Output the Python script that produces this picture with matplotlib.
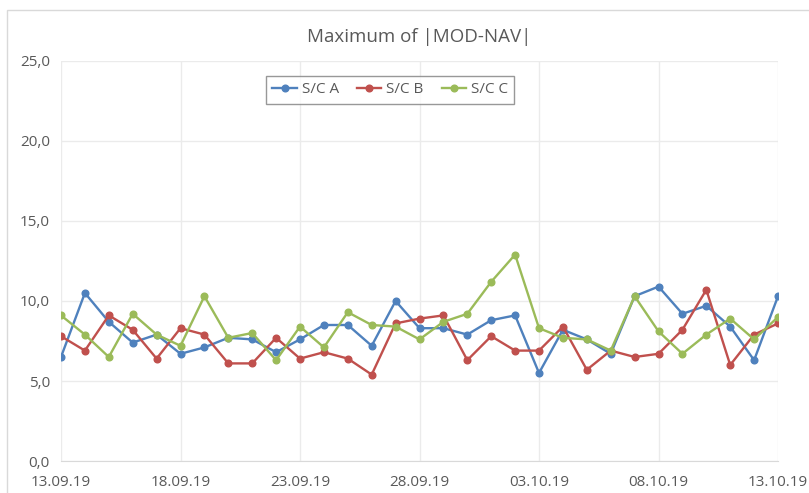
import matplotlib
matplotlib.use('Agg')
import matplotlib.pyplot as plt
import matplotlib.dates as mdates
from matplotlib.ticker import FuncFormatter, MultipleLocator
from matplotlib.patches import Rectangle
import pandas as pd

plt.rcParams['font.family'] = ['Open Sans', 'DejaVu Sans']

dates = pd.date_range('2019-09-13', '2019-10-13', freq='D')

sc_a = [6.5, 10.5, 8.7, 7.4, 7.9, 6.7, 7.1, 7.7, 7.6, 6.8,
        7.6, 8.5, 8.5, 7.2, 10.0, 8.3, 8.3, 7.9, 8.8, 9.1,
        5.5, 8.2, 7.6, 6.7, 10.3, 10.9, 9.2, 9.7, 8.4, 6.3, 10.3]
sc_b = [7.8, 6.9, 9.1, 8.2, 6.4, 8.3, 7.9, 6.1, 6.1, 7.7,
        6.4, 6.8, 6.4, 5.4, 8.6, 8.9, 9.1, 6.3, 7.8, 6.9,
        6.9, 8.4, 5.7, 6.9, 6.5, 6.7, 8.2, 10.7, 6.0, 7.9, 8.6]
sc_c = [9.1, 7.9, 6.5, 9.2, 7.9, 7.2, 10.3, 7.7, 8.0, 6.3,
        8.4, 7.1, 9.3, 8.5, 8.4, 7.6, 8.7, 9.2, 11.2, 12.9,
        8.3, 7.7, 7.6, 6.9, 10.3, 8.1, 6.7, 7.9, 8.9, 7.6, 9.0]

series = [('S/C A', sc_a, '#4F81BD'),
          ('S/C B', sc_b, '#C0504D'),
          ('S/C C', sc_c, '#9BBB59')]

fig = plt.figure(figsize=(8.09, 4.93), dpi=100)
fig.patches.append(Rectangle((0.009, -0.1), 1.2, 1.08, transform=fig.transFigure,
                             fill=False, edgecolor='#D9D9D9', linewidth=1))
ax = fig.add_axes([0.0754, 0.0649, 0.8863, 0.8114])

for name, vals, col in series:
    ax.plot(dates, vals, color=col, linewidth=1.7, marker='o', markersize=4.8, label=name)

ax.set_ylim(0, 25)
ax.set_xlim(dates[0], dates[-1])
ax.yaxis.set_major_locator(MultipleLocator(5))
ax.yaxis.set_major_formatter(FuncFormatter(lambda v, p: f'{v:.1f}'.replace('.', ',')))
ax.set_xticks(dates[::5])
ax.xaxis.set_major_formatter(mdates.DateFormatter('%d.%m.%y'))

ax.grid(True, color='#EBEBEB', linewidth=1)
ax.set_axisbelow(True)
for s in ['top', 'right', 'left']:
    ax.spines[s].set_visible(False)
ax.spines['bottom'].set_color('#D9D9D9')
ax.tick_params(length=0, labelsize=11, colors='#595959')
ax.tick_params(axis='x', pad=10)
ax.tick_params(axis='y', pad=8)

ax.set_title('Maximum of |MOD-NAV|', fontsize=13.5, color='#595959', pad=14)

leg = ax.legend(loc='center', bbox_to_anchor=(0.459, 0.9275), ncol=3, fontsize=11,
                frameon=True, fancybox=False, edgecolor='#7F7F7F',
                handlelength=1.6, columnspacing=1.2, handletextpad=0.3, borderpad=0.4)
for t in leg.get_texts():
    t.set_color('#595959')

fig.savefig('out.png', dpi=100)
